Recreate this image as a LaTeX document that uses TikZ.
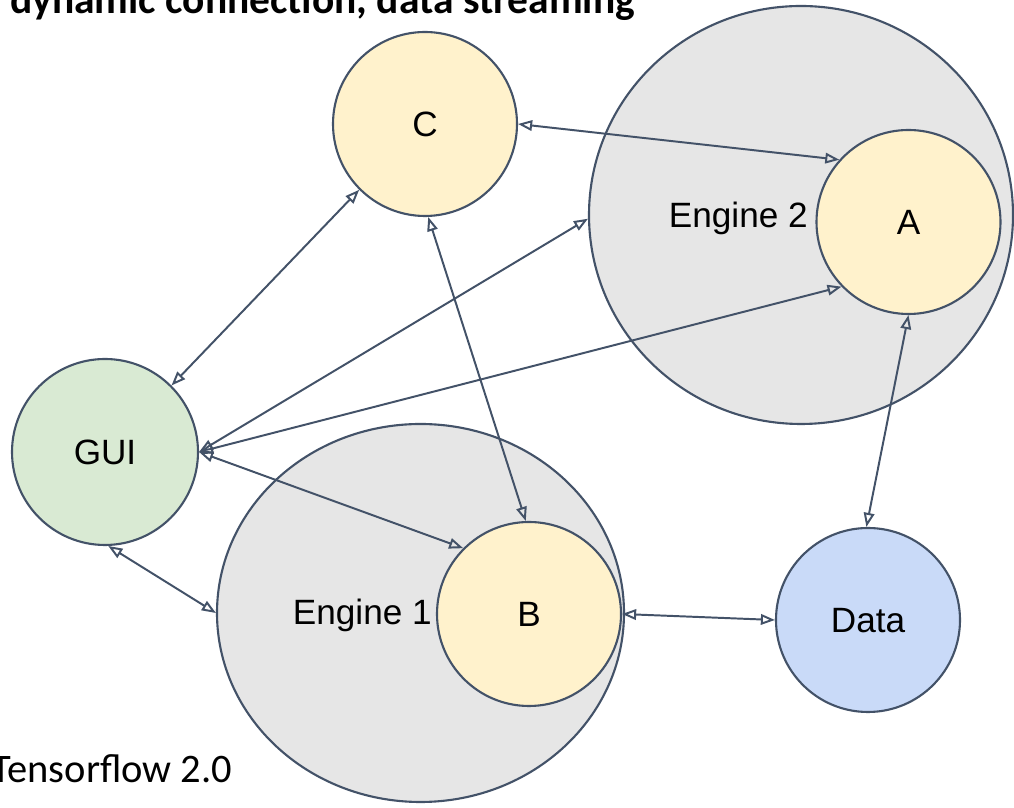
\documentclass[tikz,border=0pt]{standalone}
\usepackage{fontspec}
\setmainfont{Liberation Sans}
\newfontfamily\calibrifont{Carlito}
\usetikzlibrary{arrows.meta,shapes.geometric}
\definecolor{edgec}{RGB}{67,82,104}
\definecolor{greyfill}{RGB}{230,230,230}
\definecolor{yellowfill}{RGB}{255,242,204}
\definecolor{greenfill}{RGB}{217,234,211}
\definecolor{bluefill}{RGB}{201,218,248}
\tikzset{
  ball/.style={circle, draw=edgec, line width=1.5pt, inner sep=0pt, minimum size=184*0.025cm, font=\fontsize{25}{29}\selectfont, text depth=0pt, yshift=0pt},
  engine/.style={ellipse, draw=edgec, line width=1.5pt, fill=greyfill, inner sep=0pt},
  lbl/.style={inner sep=0pt, font=\fontsize{25}{29}\selectfont},
  link/.style={draw=edgec, line width=1.4pt, {Triangle[open,length=10pt,width=7.5pt]}-{Triangle[open,length=10pt,width=7.5pt]}}
}
\begin{document}
\begin{tikzpicture}[x=0.025cm,y=0.025cm]
\useasboundingbox (0,0) rectangle (1014,808);
% engines
\node[engine, minimum width=424*0.025cm, minimum height=418*0.025cm] (E2) at (801,593) {};
\node[engine, minimum width=407*0.025cm, minimum height=378*0.025cm] (E1) at (420.5,195) {};
\node[lbl, anchor=east] (E2l) at (808,590) {Engine 2};
\node[lbl, anchor=east] (E1l) at (432,193) {Engine 1};
% balls
\node[ball, fill=yellowfill] (A) at (908.5,586) {A};
\node[ball, fill=yellowfill] (B) at (529,194) {B};
\node[ball, fill=yellowfill] (C) at (425,684) {C};
\node[ball, fill=greenfill, minimum size=186*0.025cm] (GUI) at (105,356) {GUI};
\node[ball, fill=bluefill] (D) at (868,188) {Data};
% links
\draw[link] (C.east) -- (A.138);
\draw[link] (C.225) -- (GUI.45);
\draw[link] (C.272) -- (B.92);
\draw[link] (GUI.east) -- (E2.181);
\draw[link] (GUI.east) -- (A.224);
\draw[link] (GUI.east) -- (B.135);
\draw[link] (GUI.272) -- (E1.180);
\draw[link] (B.east) -- (D.180);
\draw[link] (A.south) -- (D.91);
% titles
\node[inner sep=0pt, anchor=base west, font=\calibrifont\bfseries\fontsize{29.5}{34}\selectfont] (title) at (10,794) {dynamic connection, data streaming};
\node[inner sep=0pt, anchor=base west, font=\calibrifont\fontsize{28.8}{33}\selectfont] (tf) at (-9,25) {Tensorflow 2.0};
\end{tikzpicture}
\end{document}
